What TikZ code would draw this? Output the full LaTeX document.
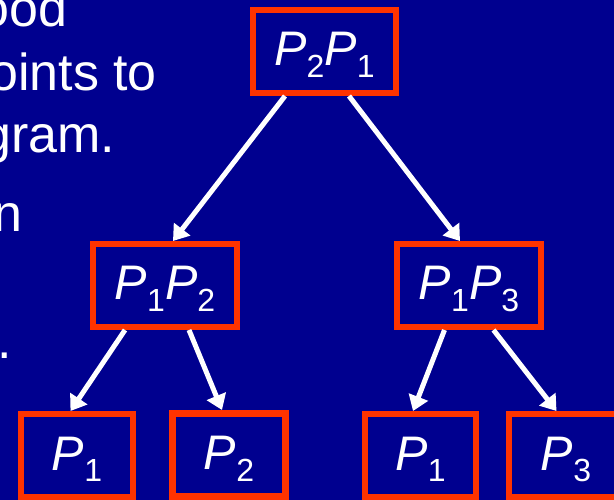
\documentclass[tikz,border=0pt]{standalone}
\usepackage{fontspec}
\setmainfont{Liberation Sans}
\usetikzlibrary{arrows.meta}
\definecolor{bgblue}{RGB}{0,0,143}
\definecolor{boxred}{RGB}{255,51,0}
\newcommand{\pv}[1]{\textit{P}\raisebox{-11.5pt}{\fontsize{32}{32}\selectfont #1}}
\begin{document}
\begin{tikzpicture}[x=1pt,y=-1pt,
  tbox/.style={draw=boxred, line width=6pt, fill=bgblue, text=white, inner sep=0pt,
    minimum height=83pt, text height=39pt, text depth=10pt, font=\fontsize{48.5}{56}\selectfont},
  slidetext/.style={text=white, inner sep=0pt, anchor=base west, font=\fontsize{52}{63}\selectfont},
  arr/.style={draw=white, line width=5pt, -{Triangle[length=15pt,width=20pt]}}]
\useasboundingbox (0,0) rectangle (614,500);
\fill[bgblue] (0,0) rectangle (614,500);
\clip (0,0) rectangle (614,500);
% slide text fragments
\node[slidetext] (t1) at (-19.7,27) {ood};
\node[slidetext] (t2) at (-11,90.7) {oints to};
\node[slidetext] (t3) at (-18,153) {gram.};
\node[slidetext] (t4) at (-6.5,232) {n};
\node[slidetext] (t5) at (-2.7,359) {.};
% boxes
\node[tbox, minimum width=143pt] (top) at (324.5,51.5) {\pv{2}\pv{1}};
\node[tbox, minimum width=144pt] (l) at (165,285.5) {\pv{1}\pv{2}};
\node[tbox, minimum width=144pt] (r) at (469,285.5) {\pv{1}\pv{3}};
\node[tbox, minimum width=112pt] (b1) at (77,455.5) {\pv{1}};
\node[tbox, minimum width=113pt, line width=7pt] (b2) at (229,455) {\pv{2}};
\node[tbox, minimum width=111pt] (b3) at (420.5,455.5) {\pv{1}};
\node[tbox, minimum width=114pt] (b4) at (566,455.5) {\pv{3}};
% arrows
\draw[arr] ([xshift=-39.5pt]top.south) -- ([xshift=8pt]l.north);
\draw[arr] ([xshift=24.5pt]top.south) -- ([xshift=-9pt]r.north);
\draw[arr] ([xshift=-40pt]l.south) -- ([xshift=-6.5pt]b1.north);
\draw[arr] ([xshift=24pt]l.south) -- ([xshift=-7pt]b2.north);
\draw[arr] ([xshift=-24.5pt]r.south) -- ([xshift=-7.5pt]b3.north);
\draw[arr] ([xshift=24.5pt]r.south) -- ([xshift=-9.5pt]b4.north);
\end{tikzpicture}
\end{document}
